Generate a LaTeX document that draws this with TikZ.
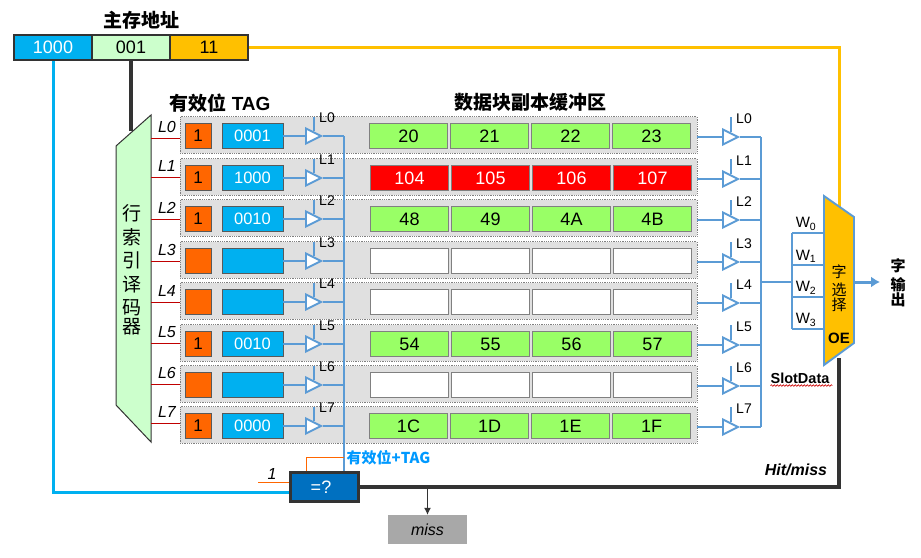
\documentclass[tikz,border=0pt]{standalone}
\usepackage{fontspec}
\setmainfont{Liberation Sans}
\newfontfamily\cjk{Noto Sans CJK SC}
\usetikzlibrary{arrows.meta,shapes.geometric,decorations.pathmorphing}
\definecolor{addrblue}{HTML}{00B0F0}
\definecolor{addrgreen}{HTML}{CCFFCC}
\definecolor{addryellow}{HTML}{FFC000}
\definecolor{busblue}{HTML}{5B9BD5}
\definecolor{darkline}{HTML}{333333}
\definecolor{validorange}{HTML}{FF6600}
\definecolor{cellgreen}{HTML}{99FF66}
\definecolor{rowgray}{HTML}{E0E0E0}
\definecolor{cmpblue}{HTML}{0070C0}
\definecolor{decred}{HTML}{C00000}
\definecolor{noteblue}{HTML}{0099FF}
\newcommand{\fs}[1]{\fontsize{#1}{#1}\selectfont}

\begin{document}
\begin{tikzpicture}[x=1pt, y=-1pt, inner sep=0pt,
  addrbox/.style={draw=darkline, line width=2pt, minimum width=78pt, minimum height=25pt, font=\fs{18}},
  rowbox/.style={draw=gray, densely dotted, line width=0.8pt, fill=rowgray, minimum width=517pt, minimum height=36.5pt},
  validbox/.style={draw=gray!70!black, line width=0.8pt, fill=validorange, minimum width=26pt, minimum height=25pt, font=\fs{17}},
  tagbox/.style={draw=gray!70!black, line width=0.8pt, fill=addrblue, text=white, minimum width=61pt, minimum height=25pt, font=\fs{16.5}},
  cell/.style={draw=gray, line width=0.8pt, minimum width=78pt, minimum height=25pt, font=\fs{18}},
  tri/.style={draw=busblue, fill=white, line width=1.9pt, isosceles triangle, isosceles triangle stretches,
    minimum width=15pt, minimum height=15pt, anchor=lower side},
  busline/.style={draw=busblue, line width=1.9pt},
  thickdark/.style={draw=darkline, line width=3.2pt},
  lab/.style={font=\fs{14}},
  sel/.style={font=\fs{16}\itshape},
  wlab/.style={font=\fs{15}}]
  \useasboundingbox (0,0) rectangle (921,557);
  % 地址
  \node[font=\cjk\bfseries\fs{19}] (Title) at (141,20) {主存地址};
  \node[addrbox, fill=addrblue, text=white] (Addr1) at (53,47.5) {1000};
  \node[addrbox, fill=addrgreen] (Addr2) at (131,47.5) {001};
  \node[addrbox, fill=addryellow] (Addr3) at (209,47.5) {11};
  \node[font=\bfseries\fs{19}] (HeadTag) at (220,103) {{\cjk\bfseries 有效位} TAG};
  \node[font=\cjk\bfseries\fs{19}] (HeadData) at (530,102) {数据块副本缓冲区};
  % 译码器
  \coordinate (DecIn) at (131,131);
  \coordinate (MuxIn) at (839,207);
  \coordinate (MuxOut) at (839,358);
  \draw[thickdark] (Addr2.south) -- (DecIn);
  \draw[draw=darkline, fill=addrgreen, line width=1pt] (151,115) -- (151,442) -- (116,405) -- (116,146) -- cycle;
  \node[font=\cjk\fs{19}, align=center, text width=20pt] (DecText) at (132,270)
    {\baselineskip=23.4pt 行\\索\\引\\译\\码\\器};
  % 比较器
  \node[draw=darkline, line width=3.2pt, fill=cmpblue, text=white, minimum width=68pt, minimum height=29pt, font=\fs{18}] (Cmp) at (324.5,487) {=?\hspace*{7pt}};
  \node[fill=black!34, minimum width=79pt, minimum height=29pt, font=\fs{16}\itshape] (Miss) at (427.5,529.5) {miss};
  % 各行
  \foreach \i/\y/\s/\cx/\col/\ctxt/\valid/\tg/\da/\db/\dc/\dd in {
    0/135/138/369/cellgreen/black/1/0001/20/21/22/23,
    1/177/177/370/red/white/1/1000/104/105/106/107,
    2/218/219/370/cellgreen/black/1/0010/48/49/4A/4B,
    3/260/261/370/white/black/{}/{}/{}/{}/{}/{},
    4/301/302/370/white/black/{}/{}/{}/{}/{}/{},
    5/343/343/370/cellgreen/black/1/0010/54/55/56/57,
    6/384/384/370/white/black/{}/{}/{}/{}/{}/{},
    7/425/423/369/cellgreen/black/1/0000/1C/1D/1E/1F} {
    \node[rowbox] (Row\i) at (438.5,\y) {};
    \node[validbox] (Valid\i) at (198,\y+1) {\valid};
    \node[tagbox] (Tag\i) at (252.5,\y+1) {\tg};
    \foreach \k/\v in {0/\da,1/\db,2/\dc,3/\dd}
      \node[cell, fill=\col, text=\ctxt] (Cell\i\k) at ({\cx+39.5+81*\k},\y+1) {\v};
    % 译码输出
    \coordinate (Dec\i) at (151,\s);
    \draw[draw=decred, line width=1pt] (Dec\i) -- (Dec\i -| Row\i.west);
    \node[sel] (Sel\i) at (167,\s-11) {L\i};
    % 左三态门
    \node[tri] (TagGate\i) at (305,\y+1) {};
    \coordinate (TagEn\i) at (TagGate\i.left side |- 0,\y-18);
    \coordinate (TagBus\i) at (344,\y+1);
    \draw[busline] (TagGate\i.lower side -| Tag\i.east) -- (TagGate\i.lower side);
    \draw[busline] (TagEn\i) -- (TagGate\i.left side);
    \draw[busline] (TagGate\i.apex) -- (TagBus\i);
    \node[lab] (TagLab\i) at (327,\y-17) {L\i};
    % 右三态门
    \node[tri] (DataGate\i) at (722,\y+2) {};
    \coordinate (DataEn\i) at (DataGate\i.left side |- 0,\y-18);
    \coordinate (DataBus\i) at (761,\y+2);
    \draw[busline] (DataGate\i.lower side -| Row\i.east) -- (DataGate\i.lower side);
    \draw[busline] (DataEn\i) -- (DataGate\i.left side);
    \draw[busline] (DataGate\i.apex) -- (DataBus\i);
    \node[lab] (DataLab\i) at (744,\y-16) {L\i};
  }
  \draw[busline] (TagBus0) -- (TagBus0 |- Cmp.north);
  \draw[busline] (DataBus0) -- (DataBus7);
  % 连线
  \draw[draw=addryellow, line width=3pt] (Addr3.east) -| (MuxIn);
  \draw[thickdark] (Cmp.east) -| (MuxOut);
  \draw[draw=addrblue, line width=3pt] (Addr1.south) |- ([yshift=-5pt]Cmp.west);
  \draw[draw=validorange, line width=1pt] ([xshift=-18.5pt]Cmp.north) |- (TagBus7 |- 0,457.5);
  \coordinate (OneIn) at (258,482);
  \draw[draw=validorange, line width=1pt] (OneIn) -- (OneIn -| Cmp.west);
  \node[sel] (One) at (272,474) {1};
  \node[font=\cjk\bfseries\fs{15}, text=noteblue] (ValidTag) at (388.5,458) {有效位+TAG};
  \draw[draw=darkline, line width=1pt, -{Latex[length=7pt,width=7pt]}] (Miss.north |- Cmp.east) -- (Miss.north);
  \node[font=\bfseries\itshape\fs{16}] (HitMiss) at (796,470) {Hit/miss};
  % 字选择
  \coordinate (BusTap) at (761,282);
  \coordinate (WayTap) at (792,282);
  \draw[busline] (BusTap) -- (WayTap);
  \foreach \j/\wy in {0/233,1/265,2/297,3/329} {
    \coordinate (Way\j) at (792,\wy);
    \coordinate (WayEnd\j) at (824,\wy);
    \draw[busline] (Way\j) -- (WayEnd\j);
    \node[wlab] (WayLab\j) at (806,\wy-9) {W\textsubscript{\j}};
  }
  \draw[busline] (Way0) -- (Way3);
  \draw[draw=busblue, fill=addryellow, line width=1.9pt] (824,196) -- (854,217) -- (854,343) -- (824,365) -- cycle;
  \node[font=\cjk\fs{15}, align=center, text width=20pt] (MuxText) at (839,288)
    {\baselineskip=18pt 字\\选\\择};
  \node[font=\bfseries\fs{15}] (OE) at (839,338) {OE};
  \coordinate (MuxEast) at (854,282);
  \coordinate (WordOut) at (880,282);
  \draw[draw=busblue, line width=3pt, -{Latex[length=9pt,width=11pt]}] (MuxEast) -- (WordOut);
  \node[font=\cjk\bfseries\fs{15}, align=center, text width=20pt] (Word) at (898,283)
    {\baselineskip=19pt 字\\输\\出};
  \node[font=\bfseries\fs{14.5}] (Slot) at (800,378) {SlotData};
  \draw[draw=red!80!black, line width=0.6pt, decorate, decoration={snake, amplitude=0.8pt, segment length=3pt}] (Slot.south west) ++(0,2) -- ++(62,0);
\end{tikzpicture}
\end{document}
